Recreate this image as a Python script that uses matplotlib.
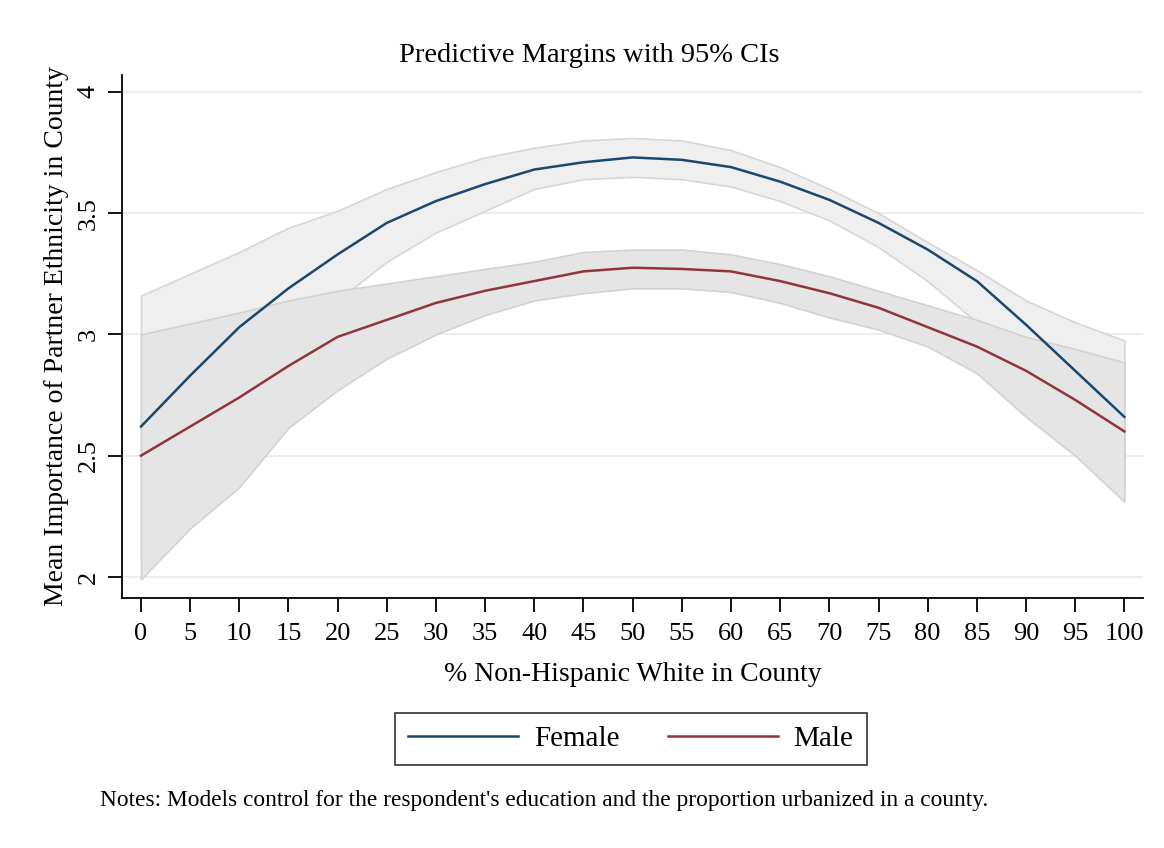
import matplotlib
matplotlib.use('Agg')
import matplotlib.pyplot as plt
import numpy as np

plt.rcParams['font.family'] = ['Liberation Serif', 'DejaVu Serif']

# % non-Hispanic white in county
pct_white = [0, 5, 10, 15, 20, 25, 30, 35, 40, 45, 50, 55, 60, 65, 70, 75, 80, 85, 90, 95, 100]

female = [2.62, 2.83, 3.03, 3.19, 3.33, 3.46, 3.55, 3.62, 3.68, 3.71, 3.73,
          3.72, 3.69, 3.63, 3.555, 3.46, 3.35, 3.22, 3.04, 2.85, 2.66]
female_hi = [3.16, 3.25, 3.34, 3.44, 3.51, 3.60, 3.67, 3.73, 3.77, 3.80, 3.81,
             3.80, 3.76, 3.69, 3.60, 3.50, 3.38, 3.265, 3.14, 3.05, 2.975]
female_lo = [2.08, 2.40, 2.70, 2.94, 3.14, 3.30, 3.42, 3.51, 3.60, 3.64, 3.65,
             3.64, 3.61, 3.55, 3.47, 3.36, 3.22, 3.05, 2.86, 2.63, 2.36]

male = [2.50, 2.62, 2.74, 2.87, 2.99, 3.06, 3.13, 3.18, 3.22, 3.26, 3.275,
        3.27, 3.26, 3.22, 3.17, 3.11, 3.03, 2.95, 2.85, 2.73, 2.60]
male_hi = [3.00, 3.045, 3.09, 3.14, 3.18, 3.21, 3.24, 3.27, 3.30, 3.34, 3.35,
           3.35, 3.33, 3.29, 3.24, 3.18, 3.12, 3.06, 2.99, 2.94, 2.885]
male_lo = [1.99, 2.20, 2.37, 2.615, 2.77, 2.90, 3.00, 3.08, 3.14, 3.17, 3.19,
           3.19, 3.175, 3.13, 3.07, 3.02, 2.95, 2.84, 2.66, 2.50, 2.31]

navy = '#1a476f'
maroon = '#90353b'

fig = plt.figure(figsize=(11.64, 8.48), dpi=100)
ax = fig.add_axes([0.1048, 0.2948, 0.8772, 0.6168])

for v in [2, 2.5, 3, 3.5, 4]:
    ax.axhline(v, color='#e9eff1', lw=1.5, zorder=0)

ax.fill_between(pct_white, female_lo, female_hi, facecolor='#efefef', edgecolor='#d6d6d6', lw=1.2, zorder=1)
ax.fill_between(pct_white, male_lo, male_hi, facecolor='#e5e5e5', edgecolor='#d2d2d2', lw=1.2, zorder=2)
ax.plot(pct_white, female, color=navy, lw=1.8, label='Female', zorder=3)
ax.plot(pct_white, male, color=maroon, lw=1.8, label='Male', zorder=3)

ax.set_xlim(-1.93, 101.9)
ax.set_ylim(1.913, 4.07)
ax.set_xticks(np.arange(0, 101, 5))
ax.set_yticks([2, 2.5, 3, 3.5, 4])
ax.set_yticklabels(['2', '2.5', '3', '3.5', '4'], rotation=90, va='center')
ax.tick_params(axis='both', direction='out', length=10, width=1.3, labelsize=19, color='black')
ax.tick_params(axis='x', pad=8)
ax.tick_params(axis='y', pad=6)

for s in ['top', 'right']:
    ax.spines[s].set_visible(False)
for s in ['left', 'bottom']:
    ax.spines[s].set_linewidth(1.3)

# title is centred on the figure, not on the plot region
fig.text(0.5065, 0.935, 'Predictive Margins with 95% CIs', fontsize=20.5, ha='center', va='center')
ax.set_xlabel('% Non-Hispanic White in County', fontsize=20, labelpad=12)
ax.set_ylabel('Mean Importance of Partner Ethnicity in County', fontsize=20, labelpad=6)

leg = fig.legend(loc='center', bbox_to_anchor=(0.542, 0.1285), ncol=2, fontsize=21,
                 frameon=True, fancybox=False, handlelength=3.75, columnspacing=1.68,
                 handletextpad=0.55, borderpad=0.45)
leg.get_frame().set_edgecolor('black')
leg.get_frame().set_linewidth(1.2)

fig.text(0.086, 0.056, "Notes: Models control for the respondent's education and the proportion urbanized in a county.",
         fontsize=16.8, va='center')

plt.savefig('out.png', dpi=100)
